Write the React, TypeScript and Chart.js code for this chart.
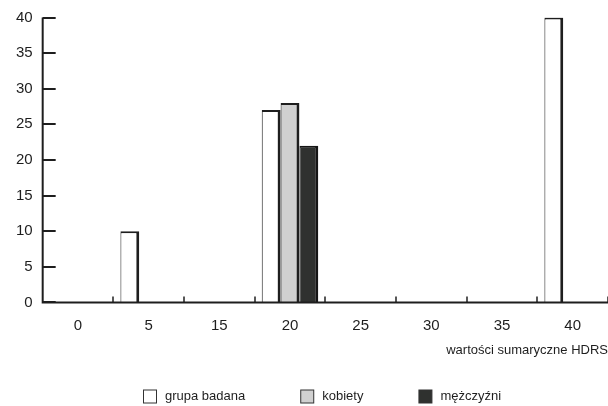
import { useEffect, useRef } from "react";
import { Chart, registerables } from "chart.js";

Chart.register(...registerables);

const categories = ["0", "5", "15", "20", "25", "30", "35", "40"];
const grupaBadana = [null, 10, null, 27, null, null, null, 40];
const kobiety = [null, null, null, 28, null, null, null, null];
const mezczyzni = [null, null, null, 22, null, null, null, null];
const seriesNames = ["grupa badana", "kobiety", "mężczyźni"];
const axisTitle = "wartości sumaryczne HDRS";

const FONT = "'Liberation Sans', Arial, sans-serif";
const INK = "#1e1e1e";

const axisPlugin = {
  id: "innerAxes",
  afterDatasetsDraw(chart: any) {
    const { ctx, chartArea, scales } = chart;
    const x = scales.x;
    const y = scales.y;
    ctx.save();
    ctx.strokeStyle = INK;
    ctx.lineWidth = 2;
    ctx.beginPath();
    ctx.moveTo(chartArea.left, chartArea.top);
    ctx.lineTo(chartArea.left, chartArea.bottom);
    ctx.lineTo(chartArea.right, chartArea.bottom);
    ctx.stroke();
    y.ticks.forEach((t: any) => {
      const py = Math.round(y.getPixelForValue(t.value));
      ctx.beginPath();
      ctx.moveTo(chartArea.left, py);
      ctx.lineTo(chartArea.left + 13, py);
      ctx.stroke();
    });
    ctx.lineWidth = 1.5;
    for (let i = 1; i <= categories.length; i++) {
      const px = Math.round(x.getPixelForValue(i - 0.5));
      ctx.beginPath();
      ctx.moveTo(px, chartArea.bottom);
      ctx.lineTo(px, chartArea.bottom - 6);
      ctx.stroke();
    }
    ctx.restore();
  },
};

const legendPlugin = {
  id: "customLegend",
  afterDraw(chart: any) {
    const { ctx, chartArea, height } = chart;
    const items = chart.data.datasets.map((d: any) => ({ label: d.label, fill: d.backgroundColor }));
    ctx.save();
    ctx.font = `13px ${FONT}`;
    const box = 13;
    const gapText = 9;
    const gapItem = 55;
    const widths = items.map((it: any) => box + gapText + ctx.measureText(it.label).width);
    const total = widths.reduce((a: number, b: number) => a + b, 0) + gapItem * (items.length - 1);
    let x = Math.round((chartArea.left + chartArea.right) / 2 - total / 2) - 3;
    const cy = height - 10;
    items.forEach((it: any, i: number) => {
      ctx.fillStyle = it.fill;
      ctx.fillRect(x + 0.5, cy - box / 2 + 0.5, box, box);
      ctx.strokeStyle = "#333";
      ctx.lineWidth = 1;
      ctx.strokeRect(x + 0.5, cy - box / 2 + 0.5, box, box);
      ctx.fillStyle = INK;
      ctx.textAlign = "left";
      ctx.textBaseline = "middle";
      ctx.fillText(it.label, x + box + gapText, cy);
      x += widths[i] + gapItem;
    });
    ctx.restore();
  },
};

export default function App() {
  const ref = useRef<HTMLCanvasElement>(null);
  useEffect(() => {
    if (!ref.current) return;
    const border = { top: 2, right: 3, left: 1, bottom: 0 };
    const chart = new Chart(ref.current, {
      type: "bar",
      data: {
        labels: categories,
        datasets: [
          {
            label: seriesNames[0],
            data: grupaBadana,
            backgroundColor: "#ffffff",
            borderColor: INK,
            borderWidth: border,
          },
          {
            label: seriesNames[1],
            data: kobiety,
            backgroundColor: "#d0d0d0",
            borderColor: INK,
            borderWidth: border,
          },
          {
            label: seriesNames[2],
            data: mezczyzni,
            backgroundColor: "#2f312f",
            borderColor: "#151515",
            borderWidth: border,
          },
        ],
      },
      options: {
        animation: false,
        responsive: false,
        maintainAspectRatio: false,
        layout: { padding: { left: 6, right: 0, top: 0, bottom: 48 } },
        datasets: {
          bar: { categoryPercentage: 0.8, barPercentage: 1 },
        },
        plugins: {
          tooltip: { enabled: false },
          legend: { display: false },
        },
        scales: {
          x: {
            grid: { display: false, drawTicks: false },
            border: { display: false },
            ticks: {
              color: INK,
              padding: 14,
              font: { family: FONT, size: 15 },
              maxRotation: 0,
            },
            title: {
              display: true,
              text: axisTitle,
              align: "end",
              color: INK,
              font: { family: FONT, size: 13 },
              padding: { top: -6, bottom: 0 },
            },
          },
          y: {
            min: 0,
            max: 40,
            grid: { display: false, drawTicks: false },
            border: { display: false },
            ticks: {
              stepSize: 5,
              color: INK,
              padding: 10,
              font: { family: FONT, size: 15, lineHeight: 1 },
            },
          },
        },
      },
      plugins: [axisPlugin, legendPlugin],
    });
    return () => chart.destroy();
  }, []);
  return (
    <div style={{ position: "fixed", left: 0, top: 0, width: 608, height: 406, background: "#ffffff" }}>
      <canvas ref={ref} width={608} height={406} style={{ width: 608, height: 406 }} />
    </div>
  );
}
